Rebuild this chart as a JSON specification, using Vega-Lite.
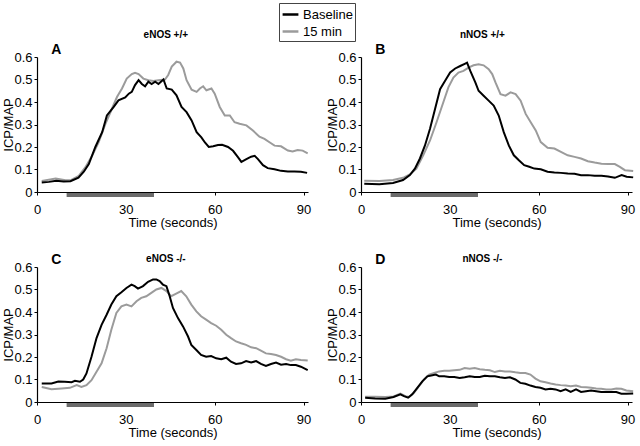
{
  "$schema": "https://vega.github.io/schema/vega-lite/v6.json",
  "padding": {"left": 2, "top": 2, "right": 5, "bottom": 5},
  "background": "white",
  "datasets": {
    "curves": [
      {"p":"A","s":"15 min","t":1.6,"v":0.049},{"p":"A","s":"15 min","t":6.3,"v":0.06},{"p":"A","s":"15 min","t":9.6,"v":0.052},{"p":"A","s":"15 min","t":11.3,"v":0.052},{"p":"A","s":"15 min","t":14.1,"v":0.072},{"p":"A","s":"15 min","t":16.3,"v":0.109},{"p":"A","s":"15 min","t":18.6,"v":0.161},{"p":"A","s":"15 min","t":20.8,"v":0.221},{"p":"A","s":"15 min","t":23.1,"v":0.303},{"p":"A","s":"15 min","t":25.3,"v":0.37},{"p":"A","s":"15 min","t":27,"v":0.422},{"p":"A","s":"15 min","t":28.7,"v":0.46},{"p":"A","s":"15 min","t":30.3,"v":0.504},{"p":"A","s":"15 min","t":32,"v":0.524},{"p":"A","s":"15 min","t":33.1,"v":0.53},{"p":"A","s":"15 min","t":34.3,"v":0.524},{"p":"A","s":"15 min","t":35.9,"v":0.504},{"p":"A","s":"15 min","t":37.6,"v":0.497},{"p":"A","s":"15 min","t":39.3,"v":0.493},{"p":"A","s":"15 min","t":41,"v":0.497},{"p":"A","s":"15 min","t":43.2,"v":0.5},{"p":"A","s":"15 min","t":44.3,"v":0.52},{"p":"A","s":"15 min","t":45.5,"v":0.557},{"p":"A","s":"15 min","t":47.1,"v":0.579},{"p":"A","s":"15 min","t":48.3,"v":0.575},{"p":"A","s":"15 min","t":49.4,"v":0.549},{"p":"A","s":"15 min","t":50.5,"v":0.497},{"p":"A","s":"15 min","t":52.2,"v":0.455},{"p":"A","s":"15 min","t":53.9,"v":0.445},{"p":"A","s":"15 min","t":55,"v":0.46},{"p":"A","s":"15 min","t":56.1,"v":0.47},{"p":"A","s":"15 min","t":57.2,"v":0.452},{"p":"A","s":"15 min","t":58.9,"v":0.46},{"p":"A","s":"15 min","t":60,"v":0.437},{"p":"A","s":"15 min","t":61.7,"v":0.378},{"p":"A","s":"15 min","t":63.4,"v":0.34},{"p":"A","s":"15 min","t":65.1,"v":0.34},{"p":"A","s":"15 min","t":66.7,"v":0.31},{"p":"A","s":"15 min","t":68.4,"v":0.303},{"p":"A","s":"15 min","t":70.7,"v":0.296},{"p":"A","s":"15 min","t":72.9,"v":0.273},{"p":"A","s":"15 min","t":75.1,"v":0.246},{"p":"A","s":"15 min","t":76.8,"v":0.236},{"p":"A","s":"15 min","t":78.5,"v":0.221},{"p":"A","s":"15 min","t":80.2,"v":0.206},{"p":"A","s":"15 min","t":82.4,"v":0.203},{"p":"A","s":"15 min","t":84.7,"v":0.184},{"p":"A","s":"15 min","t":86.3,"v":0.18},{"p":"A","s":"15 min","t":88,"v":0.187},{"p":"A","s":"15 min","t":89.7,"v":0.184},{"p":"A","s":"15 min","t":91.4,"v":0.172},
      {"p":"A","s":"Baseline","t":1.6,"v":0.042},{"p":"A","s":"Baseline","t":4,"v":0.045},{"p":"A","s":"Baseline","t":6.5,"v":0.05},{"p":"A","s":"Baseline","t":9,"v":0.047},{"p":"A","s":"Baseline","t":11.3,"v":0.048},{"p":"A","s":"Baseline","t":14,"v":0.064},{"p":"A","s":"Baseline","t":15.8,"v":0.09},{"p":"A","s":"Baseline","t":17.5,"v":0.124},{"p":"A","s":"Baseline","t":19.7,"v":0.2},{"p":"A","s":"Baseline","t":22,"v":0.266},{"p":"A","s":"Baseline","t":23.6,"v":0.34},{"p":"A","s":"Baseline","t":25.9,"v":0.378},{"p":"A","s":"Baseline","t":27.5,"v":0.407},{"p":"A","s":"Baseline","t":29.8,"v":0.42},{"p":"A","s":"Baseline","t":31,"v":0.437},{"p":"A","s":"Baseline","t":32,"v":0.445},{"p":"A","s":"Baseline","t":33.1,"v":0.475},{"p":"A","s":"Baseline","t":34.3,"v":0.497},{"p":"A","s":"Baseline","t":35.4,"v":0.48},{"p":"A","s":"Baseline","t":36.5,"v":0.47},{"p":"A","s":"Baseline","t":37.6,"v":0.49},{"p":"A","s":"Baseline","t":38.7,"v":0.48},{"p":"A","s":"Baseline","t":39.9,"v":0.49},{"p":"A","s":"Baseline","t":41,"v":0.48},{"p":"A","s":"Baseline","t":42.7,"v":0.5},{"p":"A","s":"Baseline","t":43.8,"v":0.46},{"p":"A","s":"Baseline","t":45.5,"v":0.455},{"p":"A","s":"Baseline","t":47.1,"v":0.43},{"p":"A","s":"Baseline","t":48.8,"v":0.378},{"p":"A","s":"Baseline","t":50.5,"v":0.355},{"p":"A","s":"Baseline","t":52.2,"v":0.318},{"p":"A","s":"Baseline","t":53.9,"v":0.266},{"p":"A","s":"Baseline","t":55.5,"v":0.243},{"p":"A","s":"Baseline","t":56.7,"v":0.22},{"p":"A","s":"Baseline","t":58,"v":0.2},{"p":"A","s":"Baseline","t":59.5,"v":0.203},{"p":"A","s":"Baseline","t":61.1,"v":0.209},{"p":"A","s":"Baseline","t":62.5,"v":0.21},{"p":"A","s":"Baseline","t":64.5,"v":0.2},{"p":"A","s":"Baseline","t":66.2,"v":0.183},{"p":"A","s":"Baseline","t":67.9,"v":0.154},{"p":"A","s":"Baseline","t":69,"v":0.134},{"p":"A","s":"Baseline","t":70.7,"v":0.146},{"p":"A","s":"Baseline","t":72.3,"v":0.157},{"p":"A","s":"Baseline","t":73.5,"v":0.161},{"p":"A","s":"Baseline","t":74.6,"v":0.146},{"p":"A","s":"Baseline","t":76.3,"v":0.119},{"p":"A","s":"Baseline","t":77.9,"v":0.106},{"p":"A","s":"Baseline","t":80.2,"v":0.101},{"p":"A","s":"Baseline","t":82.4,"v":0.094},{"p":"A","s":"Baseline","t":84.7,"v":0.091},{"p":"A","s":"Baseline","t":86.9,"v":0.091},{"p":"A","s":"Baseline","t":89.1,"v":0.09},{"p":"A","s":"Baseline","t":91.2,"v":0.085},
      {"p":"B","s":"15 min","t":1.1,"v":0.05},{"p":"B","s":"15 min","t":6.2,"v":0.049},{"p":"B","s":"15 min","t":10.8,"v":0.053},{"p":"B","s":"15 min","t":14.2,"v":0.063},{"p":"B","s":"15 min","t":16.5,"v":0.078},{"p":"B","s":"15 min","t":18.7,"v":0.104},{"p":"B","s":"15 min","t":21,"v":0.163},{"p":"B","s":"15 min","t":23.3,"v":0.229},{"p":"B","s":"15 min","t":25.5,"v":0.31},{"p":"B","s":"15 min","t":27.8,"v":0.399},{"p":"B","s":"15 min","t":29.5,"v":0.465},{"p":"B","s":"15 min","t":31.2,"v":0.509},{"p":"B","s":"15 min","t":32.9,"v":0.531},{"p":"B","s":"15 min","t":34.6,"v":0.538},{"p":"B","s":"15 min","t":36.3,"v":0.553},{"p":"B","s":"15 min","t":38,"v":0.563},{"p":"B","s":"15 min","t":39.7,"v":0.568},{"p":"B","s":"15 min","t":41.4,"v":0.563},{"p":"B","s":"15 min","t":43.1,"v":0.546},{"p":"B","s":"15 min","t":44.3,"v":0.524},{"p":"B","s":"15 min","t":45.4,"v":0.487},{"p":"B","s":"15 min","t":47.1,"v":0.435},{"p":"B","s":"15 min","t":48.8,"v":0.428},{"p":"B","s":"15 min","t":50.5,"v":0.443},{"p":"B","s":"15 min","t":52.2,"v":0.435},{"p":"B","s":"15 min","t":53.9,"v":0.406},{"p":"B","s":"15 min","t":55.6,"v":0.347},{"p":"B","s":"15 min","t":57.3,"v":0.31},{"p":"B","s":"15 min","t":59,"v":0.274},{"p":"B","s":"15 min","t":60.7,"v":0.222},{"p":"B","s":"15 min","t":63,"v":0.197},{"p":"B","s":"15 min","t":65.3,"v":0.193},{"p":"B","s":"15 min","t":67.5,"v":0.178},{"p":"B","s":"15 min","t":69.8,"v":0.163},{"p":"B","s":"15 min","t":72.1,"v":0.156},{"p":"B","s":"15 min","t":74.3,"v":0.149},{"p":"B","s":"15 min","t":76.6,"v":0.137},{"p":"B","s":"15 min","t":78.9,"v":0.131},{"p":"B","s":"15 min","t":81.2,"v":0.126},{"p":"B","s":"15 min","t":83.4,"v":0.124},{"p":"B","s":"15 min","t":85.7,"v":0.124},{"p":"B","s":"15 min","t":87.4,"v":0.112},{"p":"B","s":"15 min","t":89.1,"v":0.097},{"p":"B","s":"15 min","t":91.9,"v":0.093},
      {"p":"B","s":"Baseline","t":1.1,"v":0.037},{"p":"B","s":"Baseline","t":6.2,"v":0.034},{"p":"B","s":"Baseline","t":10.8,"v":0.04},{"p":"B","s":"Baseline","t":14.2,"v":0.053},{"p":"B","s":"Baseline","t":16.5,"v":0.075},{"p":"B","s":"Baseline","t":18.2,"v":0.104},{"p":"B","s":"Baseline","t":19.9,"v":0.149},{"p":"B","s":"Baseline","t":21.6,"v":0.207},{"p":"B","s":"Baseline","t":23.3,"v":0.281},{"p":"B","s":"Baseline","t":25,"v":0.369},{"p":"B","s":"Baseline","t":26.7,"v":0.457},{"p":"B","s":"Baseline","t":28.4,"v":0.494},{"p":"B","s":"Baseline","t":30.1,"v":0.531},{"p":"B","s":"Baseline","t":31.8,"v":0.549},{"p":"B","s":"Baseline","t":33.5,"v":0.56},{"p":"B","s":"Baseline","t":35.2,"v":0.571},{"p":"B","s":"Baseline","t":35.8,"v":0.575},{"p":"B","s":"Baseline","t":36.9,"v":0.538},{"p":"B","s":"Baseline","t":38.6,"v":0.487},{"p":"B","s":"Baseline","t":39.7,"v":0.45},{"p":"B","s":"Baseline","t":41.4,"v":0.428},{"p":"B","s":"Baseline","t":43.1,"v":0.406},{"p":"B","s":"Baseline","t":44.8,"v":0.384},{"p":"B","s":"Baseline","t":46.5,"v":0.34},{"p":"B","s":"Baseline","t":48.2,"v":0.266},{"p":"B","s":"Baseline","t":49.9,"v":0.207},{"p":"B","s":"Baseline","t":51.6,"v":0.163},{"p":"B","s":"Baseline","t":53.3,"v":0.141},{"p":"B","s":"Baseline","t":55.1,"v":0.119},{"p":"B","s":"Baseline","t":56.8,"v":0.112},{"p":"B","s":"Baseline","t":58.5,"v":0.104},{"p":"B","s":"Baseline","t":60.7,"v":0.101},{"p":"B","s":"Baseline","t":63,"v":0.09},{"p":"B","s":"Baseline","t":65.3,"v":0.087},{"p":"B","s":"Baseline","t":67.5,"v":0.085},{"p":"B","s":"Baseline","t":69.8,"v":0.082},{"p":"B","s":"Baseline","t":72.1,"v":0.081},{"p":"B","s":"Baseline","t":74.3,"v":0.075},{"p":"B","s":"Baseline","t":76.6,"v":0.075},{"p":"B","s":"Baseline","t":78.9,"v":0.072},{"p":"B","s":"Baseline","t":81.2,"v":0.072},{"p":"B","s":"Baseline","t":83.4,"v":0.069},{"p":"B","s":"Baseline","t":85.7,"v":0.063},{"p":"B","s":"Baseline","t":88,"v":0.075},{"p":"B","s":"Baseline","t":89.7,"v":0.068},{"p":"B","s":"Baseline","t":91.9,"v":0.065},
      {"p":"C","s":"15 min","t":1.6,"v":0.067},{"p":"C","s":"15 min","t":4.9,"v":0.057},{"p":"C","s":"15 min","t":8.3,"v":0.06},{"p":"C","s":"15 min","t":11.1,"v":0.063},{"p":"C","s":"15 min","t":13.4,"v":0.075},{"p":"C","s":"15 min","t":15,"v":0.067},{"p":"C","s":"15 min","t":16.7,"v":0.075},{"p":"C","s":"15 min","t":18.4,"v":0.097},{"p":"C","s":"15 min","t":20.1,"v":0.134},{"p":"C","s":"15 min","t":21.8,"v":0.172},{"p":"C","s":"15 min","t":23.5,"v":0.239},{"p":"C","s":"15 min","t":25.1,"v":0.321},{"p":"C","s":"15 min","t":26.8,"v":0.396},{"p":"C","s":"15 min","t":28.5,"v":0.425},{"p":"C","s":"15 min","t":30.2,"v":0.433},{"p":"C","s":"15 min","t":31.9,"v":0.425},{"p":"C","s":"15 min","t":33.6,"v":0.448},{"p":"C","s":"15 min","t":35.2,"v":0.463},{"p":"C","s":"15 min","t":36.9,"v":0.47},{"p":"C","s":"15 min","t":38.6,"v":0.485},{"p":"C","s":"15 min","t":40.3,"v":0.5},{"p":"C","s":"15 min","t":42,"v":0.507},{"p":"C","s":"15 min","t":43.7,"v":0.493},{"p":"C","s":"15 min","t":45.3,"v":0.47},{"p":"C","s":"15 min","t":47,"v":0.482},{"p":"C","s":"15 min","t":48.7,"v":0.493},{"p":"C","s":"15 min","t":50.4,"v":0.47},{"p":"C","s":"15 min","t":52.1,"v":0.433},{"p":"C","s":"15 min","t":53.8,"v":0.403},{"p":"C","s":"15 min","t":55.4,"v":0.381},{"p":"C","s":"15 min","t":57.1,"v":0.366},{"p":"C","s":"15 min","t":58.8,"v":0.351},{"p":"C","s":"15 min","t":60.5,"v":0.339},{"p":"C","s":"15 min","t":62.2,"v":0.321},{"p":"C","s":"15 min","t":63.9,"v":0.299},{"p":"C","s":"15 min","t":65.5,"v":0.284},{"p":"C","s":"15 min","t":67.2,"v":0.269},{"p":"C","s":"15 min","t":68.9,"v":0.261},{"p":"C","s":"15 min","t":70.6,"v":0.254},{"p":"C","s":"15 min","t":72.3,"v":0.243},{"p":"C","s":"15 min","t":74,"v":0.239},{"p":"C","s":"15 min","t":75.6,"v":0.228},{"p":"C","s":"15 min","t":77.3,"v":0.216},{"p":"C","s":"15 min","t":79,"v":0.213},{"p":"C","s":"15 min","t":80.7,"v":0.209},{"p":"C","s":"15 min","t":82.4,"v":0.201},{"p":"C","s":"15 min","t":84.1,"v":0.19},{"p":"C","s":"15 min","t":85.7,"v":0.184},{"p":"C","s":"15 min","t":87.4,"v":0.19},{"p":"C","s":"15 min","t":89.1,"v":0.187},{"p":"C","s":"15 min","t":91.4,"v":0.184},
      {"p":"C","s":"Baseline","t":1.6,"v":0.082},{"p":"C","s":"Baseline","t":4.9,"v":0.082},{"p":"C","s":"Baseline","t":7.2,"v":0.091},{"p":"C","s":"Baseline","t":9.4,"v":0.09},{"p":"C","s":"Baseline","t":11.7,"v":0.088},{"p":"C","s":"Baseline","t":12.8,"v":0.094},{"p":"C","s":"Baseline","t":14.5,"v":0.09},{"p":"C","s":"Baseline","t":15.6,"v":0.1},{"p":"C","s":"Baseline","t":16.7,"v":0.127},{"p":"C","s":"Baseline","t":18.4,"v":0.201},{"p":"C","s":"Baseline","t":20.1,"v":0.284},{"p":"C","s":"Baseline","t":21.8,"v":0.343},{"p":"C","s":"Baseline","t":23.5,"v":0.388},{"p":"C","s":"Baseline","t":25.1,"v":0.433},{"p":"C","s":"Baseline","t":26.8,"v":0.47},{"p":"C","s":"Baseline","t":28.5,"v":0.488},{"p":"C","s":"Baseline","t":30.2,"v":0.507},{"p":"C","s":"Baseline","t":31.9,"v":0.522},{"p":"C","s":"Baseline","t":33,"v":0.515},{"p":"C","s":"Baseline","t":34.1,"v":0.504},{"p":"C","s":"Baseline","t":35.8,"v":0.515},{"p":"C","s":"Baseline","t":37.5,"v":0.534},{"p":"C","s":"Baseline","t":39.2,"v":0.545},{"p":"C","s":"Baseline","t":40.3,"v":0.545},{"p":"C","s":"Baseline","t":41.4,"v":0.537},{"p":"C","s":"Baseline","t":42.5,"v":0.522},{"p":"C","s":"Baseline","t":43.7,"v":0.515},{"p":"C","s":"Baseline","t":44.8,"v":0.47},{"p":"C","s":"Baseline","t":45.9,"v":0.418},{"p":"C","s":"Baseline","t":47.6,"v":0.373},{"p":"C","s":"Baseline","t":49.3,"v":0.336},{"p":"C","s":"Baseline","t":51,"v":0.291},{"p":"C","s":"Baseline","t":52.1,"v":0.254},{"p":"C","s":"Baseline","t":53.8,"v":0.231},{"p":"C","s":"Baseline","t":55.4,"v":0.209},{"p":"C","s":"Baseline","t":57.1,"v":0.201},{"p":"C","s":"Baseline","t":58.8,"v":0.204},{"p":"C","s":"Baseline","t":60.5,"v":0.194},{"p":"C","s":"Baseline","t":62.2,"v":0.19},{"p":"C","s":"Baseline","t":63.9,"v":0.197},{"p":"C","s":"Baseline","t":65.5,"v":0.179},{"p":"C","s":"Baseline","t":67.2,"v":0.169},{"p":"C","s":"Baseline","t":68.9,"v":0.172},{"p":"C","s":"Baseline","t":70.6,"v":0.182},{"p":"C","s":"Baseline","t":72.3,"v":0.176},{"p":"C","s":"Baseline","t":74,"v":0.182},{"p":"C","s":"Baseline","t":75.6,"v":0.169},{"p":"C","s":"Baseline","t":77.3,"v":0.16},{"p":"C","s":"Baseline","t":79,"v":0.169},{"p":"C","s":"Baseline","t":80.7,"v":0.175},{"p":"C","s":"Baseline","t":82.4,"v":0.166},{"p":"C","s":"Baseline","t":84.1,"v":0.169},{"p":"C","s":"Baseline","t":85.7,"v":0.164},{"p":"C","s":"Baseline","t":87.4,"v":0.164},{"p":"C","s":"Baseline","t":89.1,"v":0.157},{"p":"C","s":"Baseline","t":91.4,"v":0.142},
      {"p":"D","s":"15 min","t":1.4,"v":0.023},{"p":"D","s":"15 min","t":4.8,"v":0.023},{"p":"D","s":"15 min","t":8.2,"v":0.022},{"p":"D","s":"15 min","t":11,"v":0.025},{"p":"D","s":"15 min","t":13.3,"v":0.037},{"p":"D","s":"15 min","t":15,"v":0.026},{"p":"D","s":"15 min","t":16.2,"v":0.022},{"p":"D","s":"15 min","t":17.9,"v":0.041},{"p":"D","s":"15 min","t":19.6,"v":0.07},{"p":"D","s":"15 min","t":21.3,"v":0.1},{"p":"D","s":"15 min","t":23,"v":0.122},{"p":"D","s":"15 min","t":24.7,"v":0.129},{"p":"D","s":"15 min","t":26.4,"v":0.136},{"p":"D","s":"15 min","t":28.1,"v":0.139},{"p":"D","s":"15 min","t":29.8,"v":0.139},{"p":"D","s":"15 min","t":31.5,"v":0.141},{"p":"D","s":"15 min","t":33.3,"v":0.143},{"p":"D","s":"15 min","t":35,"v":0.151},{"p":"D","s":"15 min","t":36.7,"v":0.148},{"p":"D","s":"15 min","t":38.4,"v":0.151},{"p":"D","s":"15 min","t":40.1,"v":0.146},{"p":"D","s":"15 min","t":41.8,"v":0.143},{"p":"D","s":"15 min","t":43.5,"v":0.141},{"p":"D","s":"15 min","t":45.2,"v":0.133},{"p":"D","s":"15 min","t":46.9,"v":0.139},{"p":"D","s":"15 min","t":48.6,"v":0.136},{"p":"D","s":"15 min","t":50.3,"v":0.136},{"p":"D","s":"15 min","t":52.1,"v":0.132},{"p":"D","s":"15 min","t":53.8,"v":0.129},{"p":"D","s":"15 min","t":55.5,"v":0.129},{"p":"D","s":"15 min","t":57.2,"v":0.122},{"p":"D","s":"15 min","t":58.9,"v":0.104},{"p":"D","s":"15 min","t":60.6,"v":0.092},{"p":"D","s":"15 min","t":62.3,"v":0.088},{"p":"D","s":"15 min","t":64,"v":0.082},{"p":"D","s":"15 min","t":65.7,"v":0.078},{"p":"D","s":"15 min","t":67.4,"v":0.075},{"p":"D","s":"15 min","t":69.1,"v":0.073},{"p":"D","s":"15 min","t":70.8,"v":0.07},{"p":"D","s":"15 min","t":72.6,"v":0.073},{"p":"D","s":"15 min","t":74.3,"v":0.067},{"p":"D","s":"15 min","t":76,"v":0.066},{"p":"D","s":"15 min","t":77.7,"v":0.063},{"p":"D","s":"15 min","t":79.4,"v":0.06},{"p":"D","s":"15 min","t":81.1,"v":0.059},{"p":"D","s":"15 min","t":82.8,"v":0.056},{"p":"D","s":"15 min","t":84.5,"v":0.056},{"p":"D","s":"15 min","t":86.2,"v":0.06},{"p":"D","s":"15 min","t":87.9,"v":0.059},{"p":"D","s":"15 min","t":89.6,"v":0.051},{"p":"D","s":"15 min","t":91.9,"v":0.048},
      {"p":"D","s":"Baseline","t":1.4,"v":0.019},{"p":"D","s":"Baseline","t":4.8,"v":0.016},{"p":"D","s":"Baseline","t":8.2,"v":0.015},{"p":"D","s":"Baseline","t":11,"v":0.022},{"p":"D","s":"Baseline","t":13.3,"v":0.034},{"p":"D","s":"Baseline","t":14.5,"v":0.026},{"p":"D","s":"Baseline","t":15.9,"v":0.019},{"p":"D","s":"Baseline","t":17.3,"v":0.034},{"p":"D","s":"Baseline","t":19,"v":0.063},{"p":"D","s":"Baseline","t":20.7,"v":0.092},{"p":"D","s":"Baseline","t":22.4,"v":0.114},{"p":"D","s":"Baseline","t":24.1,"v":0.119},{"p":"D","s":"Baseline","t":25.3,"v":0.122},{"p":"D","s":"Baseline","t":26.4,"v":0.114},{"p":"D","s":"Baseline","t":28.1,"v":0.114},{"p":"D","s":"Baseline","t":29.8,"v":0.111},{"p":"D","s":"Baseline","t":31.5,"v":0.111},{"p":"D","s":"Baseline","t":33.3,"v":0.107},{"p":"D","s":"Baseline","t":35,"v":0.11},{"p":"D","s":"Baseline","t":36.7,"v":0.114},{"p":"D","s":"Baseline","t":38.4,"v":0.111},{"p":"D","s":"Baseline","t":40.1,"v":0.111},{"p":"D","s":"Baseline","t":41.8,"v":0.117},{"p":"D","s":"Baseline","t":43.5,"v":0.114},{"p":"D","s":"Baseline","t":45.2,"v":0.114},{"p":"D","s":"Baseline","t":46.9,"v":0.11},{"p":"D","s":"Baseline","t":48.6,"v":0.107},{"p":"D","s":"Baseline","t":50.3,"v":0.11},{"p":"D","s":"Baseline","t":52.1,"v":0.1},{"p":"D","s":"Baseline","t":53.8,"v":0.085},{"p":"D","s":"Baseline","t":55.5,"v":0.081},{"p":"D","s":"Baseline","t":57.2,"v":0.073},{"p":"D","s":"Baseline","t":58.9,"v":0.067},{"p":"D","s":"Baseline","t":60.6,"v":0.063},{"p":"D","s":"Baseline","t":62.3,"v":0.056},{"p":"D","s":"Baseline","t":64,"v":0.059},{"p":"D","s":"Baseline","t":65.7,"v":0.056},{"p":"D","s":"Baseline","t":67.4,"v":0.048},{"p":"D","s":"Baseline","t":69.1,"v":0.056},{"p":"D","s":"Baseline","t":70.8,"v":0.045},{"p":"D","s":"Baseline","t":72.6,"v":0.056},{"p":"D","s":"Baseline","t":74.3,"v":0.045},{"p":"D","s":"Baseline","t":76,"v":0.048},{"p":"D","s":"Baseline","t":77.7,"v":0.051},{"p":"D","s":"Baseline","t":79.4,"v":0.048},{"p":"D","s":"Baseline","t":81.1,"v":0.045},{"p":"D","s":"Baseline","t":82.8,"v":0.045},{"p":"D","s":"Baseline","t":84.5,"v":0.045},{"p":"D","s":"Baseline","t":86.2,"v":0.044},{"p":"D","s":"Baseline","t":87.9,"v":0.037},{"p":"D","s":"Baseline","t":89.6,"v":0.037},{"p":"D","s":"Baseline","t":91.9,"v":0.038}
    ],
    "stim": [{"start": 10, "end": 39.5}],
    "labels": [
      {"p": "A", "letter": "A", "name": "eNOS +/+"},
      {"p": "B", "letter": "B", "name": "nNOS +/+"},
      {"p": "C", "letter": "C", "name": "eNOS -/-"},
      {"p": "D", "letter": "D", "name": "nNOS -/-"}
    ]
  },
  "columns": 2,
  "bounds": "flush",
  "spacing": {"row": 75, "column": 53},
  "concat": [
    {
      "width": 271, "height": 135,
      "layer": [
        {"data": {"name": "curves"}, "transform": [{"filter": "datum.p == 'A'"}],
         "mark": {"type": "line", "strokeWidth": 2},
         "encoding": {
           "x": {"field": "t", "type": "quantitative", "title": "Time (seconds)", "scale": {"domain": [0, 91.5], "nice": false, "zero": false}, "axis": {"values": [0, 30, 60, 90]}},
           "y": {"field": "v", "type": "quantitative", "title": "ICP/MAP", "scale": {"domain": [0, 0.6], "nice": false}, "axis": {"values": [0, 0.1, 0.2, 0.3, 0.4, 0.5, 0.6], "tickCount": 7, "format": ".1~f", "labelOverlap": false}},
           "color": {"field": "s", "type": "nominal", "scale": {"domain": ["Baseline", "15 min"], "range": ["#000000", "#9b9b9b"]},
             "legend": {"orient": "none", "legendX": 242, "legendY": -54, "title": null}}
         }},
        {"data": {"name": "stim"}, "mark": {"type": "rule", "strokeWidth": 4, "color": "#6b6b6b", "yOffset": 3},
         "encoding": {"x": {"field": "start", "type": "quantitative"}, "x2": {"field": "end"}, "y": {"datum": 0, "title": "ICP/MAP", "axis": {"values": [0, 0.1, 0.2, 0.3, 0.4, 0.5, 0.6], "tickCount": 7, "format": ".1~f", "labelOverlap": false}}}},
        {"data": {"name": "labels"}, "transform": [{"filter": "datum.p == 'A'"}],
         "mark": {"type": "text", "fontWeight": "bold", "fontSize": 14, "dy": -3, "baseline": "alphabetic", "align": "center", "color": "#000"},
         "encoding": {"x": {"datum": 6.5}, "y": {"datum": 0.6, "title": "ICP/MAP", "axis": {"values": [0, 0.1, 0.2, 0.3, 0.4, 0.5, 0.6], "tickCount": 7, "format": ".1~f", "labelOverlap": false}}, "text": {"field": "letter"}}},
        {"data": {"name": "labels"}, "transform": [{"filter": "datum.p == 'A'"}],
         "mark": {"type": "text", "fontWeight": "bold", "fontSize": 10, "dy": -19, "baseline": "alphabetic", "align": "center", "color": "#000"},
         "encoding": {"x": {"datum": 43.5}, "y": {"datum": 0.6, "title": "ICP/MAP", "axis": {"values": [0, 0.1, 0.2, 0.3, 0.4, 0.5, 0.6], "tickCount": 7, "format": ".1~f", "labelOverlap": false}}, "text": {"field": "name"}}}
      ]
    },
    {
      "width": 271, "height": 135,
      "layer": [
        {"data": {"name": "curves"}, "transform": [{"filter": "datum.p == 'B'"}],
         "mark": {"type": "line", "strokeWidth": 2},
         "encoding": {
           "x": {"field": "t", "type": "quantitative", "title": "Time (seconds)", "scale": {"domain": [0, 91.5], "nice": false, "zero": false}, "axis": {"values": [0, 30, 60, 90]}},
           "y": {"field": "v", "type": "quantitative", "title": "ICP/MAP", "scale": {"domain": [0, 0.6], "nice": false}, "axis": {"values": [0, 0.1, 0.2, 0.3, 0.4, 0.5, 0.6], "tickCount": 7, "format": ".1~f", "labelOverlap": false}},
           "color": {"field": "s", "type": "nominal", "scale": {"domain": ["Baseline", "15 min"], "range": ["#000000", "#9b9b9b"]}, "legend": null}
         }},
        {"data": {"name": "stim"}, "mark": {"type": "rule", "strokeWidth": 4, "color": "#6b6b6b", "yOffset": 3},
         "encoding": {"x": {"field": "start", "type": "quantitative"}, "x2": {"field": "end"}, "y": {"datum": 0, "title": "ICP/MAP", "axis": {"values": [0, 0.1, 0.2, 0.3, 0.4, 0.5, 0.6], "tickCount": 7, "format": ".1~f", "labelOverlap": false}}}},
        {"data": {"name": "labels"}, "transform": [{"filter": "datum.p == 'B'"}],
         "mark": {"type": "text", "fontWeight": "bold", "fontSize": 14, "dy": -3, "baseline": "alphabetic", "align": "center", "color": "#000"},
         "encoding": {"x": {"datum": 6.5}, "y": {"datum": 0.6, "title": "ICP/MAP", "axis": {"values": [0, 0.1, 0.2, 0.3, 0.4, 0.5, 0.6], "tickCount": 7, "format": ".1~f", "labelOverlap": false}}, "text": {"field": "letter"}}},
        {"data": {"name": "labels"}, "transform": [{"filter": "datum.p == 'B'"}],
         "mark": {"type": "text", "fontWeight": "bold", "fontSize": 10, "dy": -19, "baseline": "alphabetic", "align": "center", "color": "#000"},
         "encoding": {"x": {"datum": 41}, "y": {"datum": 0.6, "title": "ICP/MAP", "axis": {"values": [0, 0.1, 0.2, 0.3, 0.4, 0.5, 0.6], "tickCount": 7, "format": ".1~f", "labelOverlap": false}}, "text": {"field": "name"}}}
      ]
    },
    {
      "width": 271, "height": 135,
      "layer": [
        {"data": {"name": "curves"}, "transform": [{"filter": "datum.p == 'C'"}],
         "mark": {"type": "line", "strokeWidth": 2},
         "encoding": {
           "x": {"field": "t", "type": "quantitative", "title": "Time (seconds)", "scale": {"domain": [0, 91.5], "nice": false, "zero": false}, "axis": {"values": [0, 30, 60, 90]}},
           "y": {"field": "v", "type": "quantitative", "title": "ICP/MAP", "scale": {"domain": [0, 0.6], "nice": false}, "axis": {"values": [0, 0.1, 0.2, 0.3, 0.4, 0.5, 0.6], "tickCount": 7, "format": ".1~f", "labelOverlap": false}},
           "color": {"field": "s", "type": "nominal", "scale": {"domain": ["Baseline", "15 min"], "range": ["#000000", "#9b9b9b"]}, "legend": null}
         }},
        {"data": {"name": "stim"}, "mark": {"type": "rule", "strokeWidth": 4, "color": "#6b6b6b", "yOffset": 3},
         "encoding": {"x": {"field": "start", "type": "quantitative"}, "x2": {"field": "end"}, "y": {"datum": 0, "title": "ICP/MAP", "axis": {"values": [0, 0.1, 0.2, 0.3, 0.4, 0.5, 0.6], "tickCount": 7, "format": ".1~f", "labelOverlap": false}}}},
        {"data": {"name": "labels"}, "transform": [{"filter": "datum.p == 'C'"}],
         "mark": {"type": "text", "fontWeight": "bold", "fontSize": 14, "dy": -3, "baseline": "alphabetic", "align": "center", "color": "#000"},
         "encoding": {"x": {"datum": 6.5}, "y": {"datum": 0.6, "title": "ICP/MAP", "axis": {"values": [0, 0.1, 0.2, 0.3, 0.4, 0.5, 0.6], "tickCount": 7, "format": ".1~f", "labelOverlap": false}}, "text": {"field": "letter"}}},
        {"data": {"name": "labels"}, "transform": [{"filter": "datum.p == 'C'"}],
         "mark": {"type": "text", "fontWeight": "bold", "fontSize": 10, "dy": -5, "baseline": "alphabetic", "align": "center", "color": "#000"},
         "encoding": {"x": {"datum": 43.5}, "y": {"datum": 0.6, "title": "ICP/MAP", "axis": {"values": [0, 0.1, 0.2, 0.3, 0.4, 0.5, 0.6], "tickCount": 7, "format": ".1~f", "labelOverlap": false}}, "text": {"field": "name"}}}
      ]
    },
    {
      "width": 271, "height": 135,
      "layer": [
        {"data": {"name": "curves"}, "transform": [{"filter": "datum.p == 'D'"}],
         "mark": {"type": "line", "strokeWidth": 2},
         "encoding": {
           "x": {"field": "t", "type": "quantitative", "title": "Time (seconds)", "scale": {"domain": [0, 91.5], "nice": false, "zero": false}, "axis": {"values": [0, 30, 60, 90]}},
           "y": {"field": "v", "type": "quantitative", "title": "ICP/MAP", "scale": {"domain": [0, 0.6], "nice": false}, "axis": {"values": [0, 0.1, 0.2, 0.3, 0.4, 0.5, 0.6], "tickCount": 7, "format": ".1~f", "labelOverlap": false}},
           "color": {"field": "s", "type": "nominal", "scale": {"domain": ["Baseline", "15 min"], "range": ["#000000", "#9b9b9b"]}, "legend": null}
         }},
        {"data": {"name": "stim"}, "mark": {"type": "rule", "strokeWidth": 4, "color": "#6b6b6b", "yOffset": 3},
         "encoding": {"x": {"field": "start", "type": "quantitative"}, "x2": {"field": "end"}, "y": {"datum": 0, "title": "ICP/MAP", "axis": {"values": [0, 0.1, 0.2, 0.3, 0.4, 0.5, 0.6], "tickCount": 7, "format": ".1~f", "labelOverlap": false}}}},
        {"data": {"name": "labels"}, "transform": [{"filter": "datum.p == 'D'"}],
         "mark": {"type": "text", "fontWeight": "bold", "fontSize": 14, "dy": -3, "baseline": "alphabetic", "align": "center", "color": "#000"},
         "encoding": {"x": {"datum": 6.5}, "y": {"datum": 0.6, "title": "ICP/MAP", "axis": {"values": [0, 0.1, 0.2, 0.3, 0.4, 0.5, 0.6], "tickCount": 7, "format": ".1~f", "labelOverlap": false}}, "text": {"field": "letter"}}},
        {"data": {"name": "labels"}, "transform": [{"filter": "datum.p == 'D'"}],
         "mark": {"type": "text", "fontWeight": "bold", "fontSize": 10, "dy": -5, "baseline": "alphabetic", "align": "center", "color": "#000"},
         "encoding": {"x": {"datum": 41}, "y": {"datum": 0.6, "title": "ICP/MAP", "axis": {"values": [0, 0.1, 0.2, 0.3, 0.4, 0.5, 0.6], "tickCount": 7, "format": ".1~f", "labelOverlap": false}}, "text": {"field": "name"}}}
      ]
    }
  ],
  "config": {
    "font": "Liberation Sans",
    "view": {"stroke": null},
    "axis": {
      "grid": false, "domainColor": "#000", "tickColor": "#000", "labelColor": "#000", "titleColor": "#000",
      "labelFontSize": 13, "titleFontSize": 13, "titleFontWeight": "normal", "tickSize": 3, "domainWidth": 1.2, "tickWidth": 1,
      "labelFlush": false
    },
    "axisX": {"labelPadding": 8, "titlePadding": 0},
    "axisY": {"labelPadding": 2, "titleX": -25, "titleY": 67.5, "titleAngle": -90, "titleAlign": "center", "titleBaseline": "alphabetic"},
    "legend": {
      "strokeColor": "#444", "padding": 2, "labelFontSize": 13, "labelColor": "#000", "symbolType": "stroke",
      "symbolStrokeWidth": 2.5, "symbolSize": 250, "rowPadding": -2, "labelOffset": 3
    }
  }
}
